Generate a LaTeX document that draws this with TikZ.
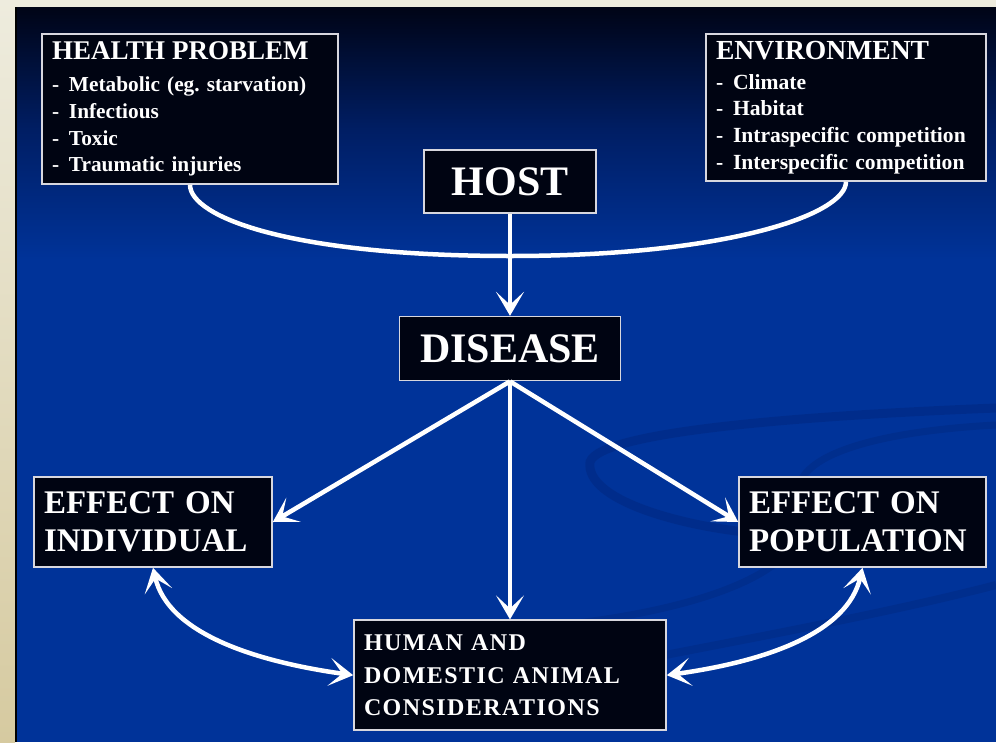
\documentclass[tikz,border=0pt]{standalone}
\usepackage{fontspec}
\setmainfont{Liberation Serif}
\usepackage{xcolor}
\usepackage{tikz}
\usetikzlibrary{positioning, arrows.meta}

\definecolor{slideblue}{RGB}{0,51,153}
\definecolor{slidetop}{RGB}{0,4,22}
\definecolor{slidemid}{RGB}{0,30,100}
\definecolor{boxfill}{RGB}{0,4,18}
\definecolor{boxline}{RGB}{215,215,222}
\definecolor{framehi}{RGB}{238,236,222}
\definecolor{framelo}{RGB}{214,202,160}
\definecolor{swoosh}{RGB}{0,40,128}

\newcommand{\itemdash}{\makebox[17pt][l]{-}}
\frenchspacing

\begin{document}
\begin{tikzpicture}[x=1pt, y=-1pt,
    box/.style={draw=boxline, line width=1.6pt, fill=boxfill, text=white,
        inner xsep=10pt, inner ysep=0pt, align=left},
    bigbox/.style={box, align=center, font=\bfseries\fontsize{42}{46}\selectfont},
    link/.style={draw=white, line width=4.5pt},
    arr/.style={link, -{Stealth[length=24pt, width=28pt, inset=13pt]}},
    arrs/.style={link, {Stealth[length=24pt, width=28pt, inset=13pt]}-{Stealth[length=24pt, width=28pt, inset=13pt]}}]
    \useasboundingbox (0,0) rectangle (996,742);

    % 背景
    \fill[framehi] (0,0) rectangle (996,742);
    \shade[top color=framehi, bottom color=framelo] (0,0) rectangle (15,742);
    \shade[top color=slidetop, bottom color=slidemid] (17,7) rectangle (996,130);
    \shade[top color=slidemid, bottom color=slideblue] (17,130) rectangle (996,260);
    \fill[slideblue] (17,260) rectangle (996,742);
    \fill[black] (15,7) rectangle (17,742);
    \draw[swoosh, line width=9pt, opacity=0.55] (996,408) .. controls (820,415) and (600,430) .. (590,462)
        .. controls (585,500) and (680,525) .. (745,532);
    \draw[swoosh, line width=7pt, opacity=0.45] (996,425) .. controls (900,430) and (780,450) .. (800,505)
        .. controls (820,570) and (700,610) .. (560,625);
    \draw[swoosh, line width=8pt, opacity=0.45] (996,585) .. controls (880,615) and (740,640) .. (640,660);

    % 方框
    \node[box, text width=276pt, minimum height=150pt, font=\bfseries\fontsize{21.3}{26.7}\selectfont]
        (health) at (190,109)
        {{\fontsize{27}{30}\selectfont HEALTH PROBLEM}\\[5.3pt]
         \itemdash Metabolic (eg. starvation)\\
         \itemdash Infectious\\
         \itemdash Toxic\\
         \itemdash Traumatic injuries};
    \node[box, text width=260pt, minimum height=147pt, font=\bfseries\fontsize{21.6}{26.7}\selectfont]
        (environment) at (846,107.5)
        {{\fontsize{27.6}{30}\selectfont ENVIRONMENT}\\[3.3pt]
         \itemdash Climate\\
         \itemdash Habitat\\
         \itemdash Intraspecific competition\\
         \itemdash Interspecific competition};
    \node[bigbox, minimum width=172pt, minimum height=63pt] (host) at (510,181.5) {HOST};
    \node[bigbox, minimum width=221pt, minimum height=64pt] (disease) [below=102pt of host] {DISEASE};
    \node[box, text width=218pt, minimum height=90pt, font=\bfseries\fontsize{33}{38}\selectfont]
        (individual) at (153,522) {EFFECT ON\\INDIVIDUAL};
    \node[box, text width=227pt, minimum height=90pt, font=\bfseries\fontsize{33}{38}\selectfont]
        (population) at (862.5,522) {EFFECT ON\\POPULATION};
    \node[box, text width=292pt, minimum height=110pt,
        font=\bfseries\fontsize{24}{32.5}\selectfont\addfontfeatures{LetterSpace=6}]
        (human) [below=238pt of disease] {HUMAN AND\\DOMESTIC ANIMAL\\CONSIDERATIONS};

    % 连线
    \draw[link] (health.south) .. controls +(0,32) and +(-220,0) .. (510,256)
        .. controls +(220,0) and +(0,32) .. (environment.south);
    \draw[arr] (host) -- (disease);
    \draw[arr] (disease.south) -- (individual.east);
    \draw[arr] (disease.south) -- (population.west);
    \draw[arr] (disease) -- (human);
    \draw[arrs] (individual.south) .. controls +(15,65) and +(-100,-14) .. (human.west);
    \draw[arrs] (population.south) .. controls +(-15,65) and +(100,-14) .. (human.east);
\end{tikzpicture}
\end{document}
